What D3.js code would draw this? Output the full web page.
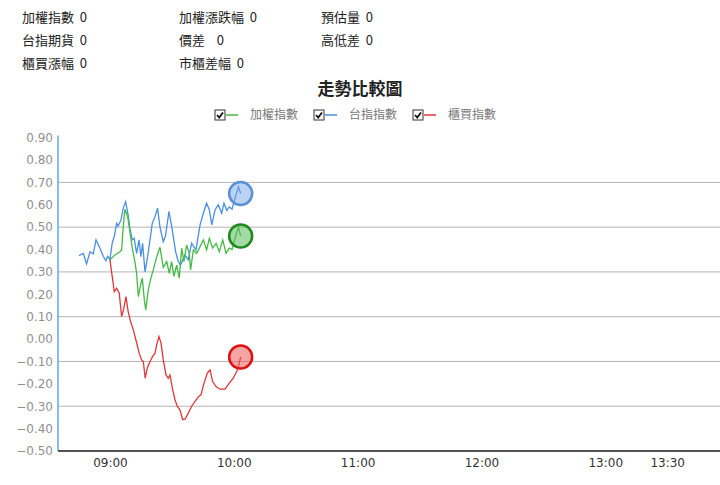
<!DOCTYPE html>
<html>
<head>
<meta charset="utf-8">
<script src="https://cdn.jsdelivr.net/npm/d3@7/dist/d3.min.js"></script>
<style>
  body { margin: 0; background: #fff; }
  svg { display: block; font-family: 'DejaVu Sans', sans-serif; }
  .cjk { font-family: 'Noto Sans CJK TC', 'Noto Sans CJK SC', sans-serif; }
</style>
</head>
<body>
<svg id="chart" width="720" height="485"></svg>
<script>
// info rows above the chart
const infoRows = [
  ['加權指數 0', '加權漲跌幅 0', '預估量 0'],
  ['台指期貨 0', '價差  0', '高低差 0'],
  ['櫃買漲幅 0', '市櫃差幅 0', '']
]

const seriesNames = ['加權指數', '台指指數', '櫃買指數']
const seriesColors = ['#44bb44', '#4a90e2', '#e23636']

// 加權指數 (green)
const taiexTimes = ['09:00:00', '09:02:25', '09:04:50', '09:05:40', '09:06:25', '09:07:15', '09:08:35', '09:09:40', '09:10:50', '09:12:05', '09:12:55', '09:13:45', '09:14:40', '09:15:40', '09:16:40', '09:17:20', '09:18:35', '09:19:50', '09:21:00', '09:22:40', '09:24:15', '09:25:50', '09:27:30', '09:28:45', '09:29:55', '09:31:00', '09:32:20', '09:33:35', '09:34:45', '09:35:50', '09:37:10', '09:38:25', '09:39:05', '09:40:25', '09:42:00', '09:43:40', '09:45:15', '09:46:50', '09:48:10', '09:49:45', '09:51:25', '09:53:00', '09:54:40', '09:56:15', '09:57:50', '09:59:10', '10:00:20', '10:01:35', '10:02:15', '10:03:20']
const taiexValues = [0.354, 0.376, 0.39, 0.398, 0.50, 0.58, 0.547, 0.48, 0.406, 0.346, 0.294, 0.19, 0.234, 0.272, 0.175, 0.13, 0.22, 0.272, 0.309, 0.368, 0.41, 0.32, 0.346, 0.294, 0.346, 0.28, 0.33, 0.272, 0.406, 0.346, 0.42, 0.383, 0.309, 0.398, 0.383, 0.413, 0.443, 0.398, 0.45, 0.406, 0.428, 0.39, 0.443, 0.383, 0.406, 0.40, 0.44, 0.48, 0.50, 0.46]

// 台指指數 (blue)
const futTimes = ['08:45:00', '08:47:05', '08:48:40', '08:50:20', '08:51:55', '08:53:15', '08:55:10', '08:56:45', '08:58:05', '08:58:55', '09:00:00', '09:01:05', '09:02:05', '09:03:15', '09:04:00', '09:05:20', '09:06:25', '09:07:35', '09:08:50', '09:09:40', '09:10:50', '09:11:45', '09:12:55', '09:14:05', '09:15:00', '09:15:50', '09:17:00', '09:18:15', '09:19:25', '09:20:30', '09:21:50', '09:23:05', '09:24:15', '09:25:50', '09:26:55', '09:28:35', '09:30:10', '09:31:50', '09:33:00', '09:34:10', '09:36:20', '09:37:55', '09:39:35', '09:41:40', '09:43:40', '09:45:15', '09:46:50', '09:48:10', '09:49:20', '09:50:55', '09:52:30', '09:54:10', '09:55:15', '09:56:35', '09:57:50', '09:59:10', '10:00:20', '10:01:35', '10:02:15', '10:03:20']
const futValues = [0.373, 0.383, 0.336, 0.39, 0.38, 0.443, 0.406, 0.37, 0.35, 0.37, 0.354, 0.428, 0.458, 0.517, 0.505, 0.532, 0.584, 0.614, 0.554, 0.495, 0.443, 0.45, 0.383, 0.443, 0.368, 0.428, 0.30, 0.368, 0.443, 0.517, 0.547, 0.585, 0.50, 0.435, 0.46, 0.57, 0.49, 0.39, 0.35, 0.33, 0.376, 0.354, 0.428, 0.398, 0.51, 0.562, 0.607, 0.577, 0.51, 0.577, 0.60, 0.562, 0.607, 0.575, 0.59, 0.58, 0.62, 0.66, 0.68, 0.65]

// 櫃買指數 (red)
const otcTimes = ['09:00:00', '09:01:20', '09:02:05', '09:03:15', '09:04:30', '09:05:40', '09:06:45', '09:07:45', '09:08:50', '09:10:00', '09:11:20', '09:12:35', '09:14:10', '09:15:20', '09:16:10', '09:17:05', '09:18:05', '09:19:25', '09:20:40', '09:21:50', '09:22:40', '09:23:45', '09:24:45', '09:25:50', '09:27:10', '09:28:15', '09:29:05', '09:30:25', '09:31:30', '09:32:35', '09:33:55', '09:35:15', '09:36:30', '09:37:55', '09:39:35', '09:41:10', '09:42:50', '09:44:05', '09:45:35', '09:47:10', '09:48:30', '09:49:45', '09:51:25', '09:53:20', '09:55:45', '09:57:50', '09:59:45', '10:01:25', '10:02:40', '10:03:20']
const otcValues = [0.354, 0.264, 0.212, 0.227, 0.205, 0.10, 0.138, 0.19, 0.123, 0.078, 0.041, -0.004, -0.063, -0.093, -0.10, -0.175, -0.13, -0.10, -0.078, -0.063, -0.026, 0.011, -0.018, -0.093, -0.16, -0.175, -0.16, -0.227, -0.27, -0.30, -0.316, -0.36, -0.357, -0.331, -0.30, -0.279, -0.257, -0.249, -0.197, -0.152, -0.138, -0.19, -0.212, -0.224, -0.224, -0.197, -0.175, -0.145, -0.108, -0.08]

const xTickLabels = ['09:00', '10:00', '11:00', '12:00', '13:00', '13:30']
const yTicks = [0.9, 0.8, 0.7, 0.6, 0.5, 0.4, 0.3, 0.2, 0.1, 0, -0.1, -0.2, -0.3, -0.4, -0.5]
const gridTicks = [0.7, 0.5, 0.3, 0.1, -0.1, -0.3]

const svg = d3.select('#chart')
const parseTime = d3.timeParse('%H:%M:%S')
const parseHM = d3.timeParse('%H:%M')

// plot area
const plotLeft = 58, plotRight = 720, plotTop = 137.6, plotBottom = 451

const x = d3.scaleTime()
  .domain([parseTime('08:34:50'), parseTime('13:55:35')])
  .range([plotLeft, plotRight])
const y = d3.scaleLinear().domain([-0.5, 0.9]).range([plotBottom, plotTop])

// info text
infoRows.forEach((row, i) => {
  svg.selectAll(null)
    .data(row)
    .enter()
    .append('text')
    .attr('class', 'cjk')
    .attr('x', (d, j) => [22, 179, 321][j])
    .attr('y', 17 + i * 23)
    .attr('dy', '0.35em')
    .style('font-size', '13px')
    .style('fill', '#222')
    .style('white-space', 'pre')
    .text((d) => d.replace(/ /g, '\u00a0 '))
})

// title
svg.append('text')
  .attr('class', 'cjk')
  .attr('x', 360)
  .attr('y', 89)
  .attr('dy', '0.35em')
  .attr('text-anchor', 'middle')
  .style('font-size', '17px')
  .style('font-weight', 'bold')
  .style('fill', '#222')
  .text('走勢比較圖')

// legend
const legend = svg.selectAll('.legend')
  .data(seriesNames)
  .enter()
  .append('g')
  .attr('class', 'legend')
  .attr('transform', (d, i) => `translate(${215 + i * 99}, 115)`)

legend.append('rect')
  .attr('x', 0).attr('y', -5)
  .attr('width', 10).attr('height', 10)
  .attr('fill', '#fff')
  .attr('stroke', '#333')
  .attr('stroke-width', 1)

legend.append('path')
  .attr('d', 'M2,0 L4.2,2.5 L8,-2.5')
  .attr('fill', 'none')
  .attr('stroke', '#111')
  .attr('stroke-width', 1.8)

legend.append('line')
  .attr('x1', 11).attr('x2', 23)
  .attr('y1', 0).attr('y2', 0)
  .attr('stroke', (d, i) => seriesColors[i])
  .attr('stroke-width', 1.5)

legend.append('text')
  .attr('class', 'cjk')
  .attr('x', 35)
  .attr('dy', '0.35em')
  .style('font-size', '12px')
  .style('fill', '#777')
  .text((d) => d)

// grid lines
svg.append('g')
  .selectAll('line')
  .data(gridTicks)
  .enter()
  .append('line')
  .attr('x1', plotLeft).attr('x2', plotRight)
  .attr('y1', (d) => y(d)).attr('y2', (d) => y(d))
  .attr('stroke', '#b5b5b5')
  .attr('stroke-width', 1)

// y axis
const yAxis = svg.append('g')
  .attr('transform', `translate(${plotLeft}, 0)`)
  .call(d3.axisLeft(y).tickValues(yTicks).tickFormat(d3.format('.2f')).tickSize(0).tickPadding(5))
yAxis.select('.domain').remove()
yAxis.selectAll('text')
  .style('font-family', "'DejaVu Sans', sans-serif")
  .style('font-size', '12px')
  .style('fill', '#909090')

svg.append('line')
  .attr('x1', plotLeft).attr('x2', plotLeft)
  .attr('y1', y(0.9) - 2).attr('y2', plotBottom)
  .attr('stroke', '#5aaede')
  .attr('stroke-width', 1.5)

// x axis
const xAxis = svg.append('g')
  .attr('transform', `translate(0, ${plotBottom})`)
  .call(d3.axisBottom(x)
    .tickValues(xTickLabels.map((t) => parseHM(t)))
    .tickFormat(d3.timeFormat('%H:%M'))
    .tickSize(0)
    .tickPadding(7))
xAxis.select('.domain').remove()
xAxis.selectAll('text')
  .style('font-family', "'DejaVu Sans', sans-serif")
  .style('font-size', '12px')
  .style('fill', '#333')

svg.append('line')
  .attr('x1', plotLeft).attr('x2', plotRight)
  .attr('y1', plotBottom).attr('y2', plotBottom)
  .attr('stroke', '#555')
  .attr('stroke-width', 2)

// lines
const series = [
  { times: taiexTimes, values: taiexValues },
  { times: futTimes, values: futValues },
  { times: otcTimes, values: otcValues }
].map((s, i) => ({
  color: seriesColors[i],
  points: s.times.map((t, k) => ({ t: parseTime(t), v: s.values[k] }))
}))

const line = d3.line()
  .x((d) => x(d.t))
  .y((d) => y(d.v))

// draw blue under green/red like the reference
const order = [1, 0, 2]
order.forEach((i) => {
  svg.append('path')
    .datum(series[i].points)
    .attr('d', line)
    .attr('fill', 'none')
    .attr('stroke', series[i].color)
    .attr('stroke-width', 1.3)
})

// end markers
const markerFill = ['rgba(90,190,90,0.55)', 'rgba(120,165,230,0.5)', 'rgba(240,90,90,0.55)']
const markerStroke = ['#1e8a1e', '#5b8fd6', '#dd1111']
series.forEach((s, i) => {
  const last = s.points[s.points.length - 1]
  svg.append('circle')
    .attr('cx', x(last.t))
    .attr('cy', y(last.v))
    .attr('r', 11.5)
    .attr('fill', markerFill[i])
    .attr('stroke', markerStroke[i])
    .attr('stroke-width', 2.5)
})
</script>
</body>
</html>
